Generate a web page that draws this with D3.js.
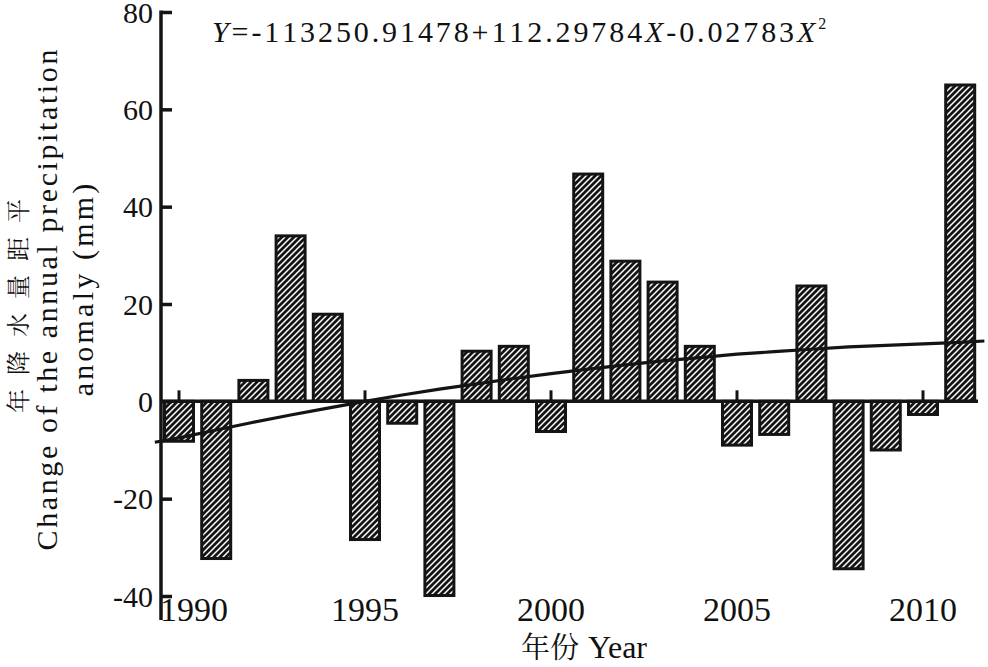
<!DOCTYPE html>
<html>
<head>
<meta charset="utf-8">
<script src="https://cdn.jsdelivr.net/npm/d3@7"></script>
<style>
  html, body { margin: 0; padding: 0; background: #fff; }
  svg { display: block; }
</style>
</head>
<body>
<svg id="chart" width="988" height="667"></svg>
<script>
// ---- data ----
const years = [1990,1991,1992,1993,1994,1995,1996,1997,1998,1999,2000,2001,2002,2003,2004,2005,2006,2007,2008,2009,2010,2011];
const anomaly = [-8.2,-32.3,4.3,34.0,17.9,-28.4,-4.5,-39.9,10.3,11.3,-6.2,46.7,28.8,24.5,11.3,-9.0,-6.8,23.7,-34.4,-10.0,-2.7,65.0];
// trend curve (year, value)
const trendYears = [1989.35,1990,1991,1992,1993,1994,1995,1996,1997,1998,1999,2000,2001,2002,2003,2004,2005,2006,2007,2008,2009,2010,2011,2011.65];
const trendValues = [-8.4,-7.5,-5.9,-4.3,-2.8,-1.4,0.0,1.3,2.5,3.6,4.7,5.7,6.6,7.5,8.3,9.0,9.7,10.2,10.7,11.2,11.5,11.8,12.1,12.4];
const yTicks = [-40,-20,0,20,40,60,80];
const xTicks = [1990,1995,2000,2005,2010];
const equationParts = [
  {t:"Y", italic:true}, {t:"=-113250.91478+112.29784"}, {t:"X", italic:true},
  {t:"-0.02783"}, {t:"X", italic:true}, {t:"2", sup:true}
];

const SERIF = "Liberation Serif";
const CJK = "Noto Serif CJK SC";

// ---- scales ----
const svg = d3.select("#chart");
const x = d3.scaleLinear().domain([1990, 2010]).range([179, 923]);
const y = d3.scaleLinear().domain([-40, 80]).range([596, 12]);
const axisX = 161;
const barW = 29;
const ink = "#141414";

// draw text one glyph per <text>, with extra spacing between glyphs
const measurer = svg.append("text").attr("x",-1000).attr("y",-1000);
function glyphWidth(c, family, size, italic) {
  if (c === " ") return size * 0.25;
  measurer.style("font-family", family).attr("font-size", size)
    .attr("font-style", italic ? "italic" : "normal").text(c);
  return measurer.node().getComputedTextLength();
}
function spacedText(parent, glyphs, spacing, anchor) {
  const widths = glyphs.map(g => glyphWidth(g.c, g.family, g.size, g.italic));
  const total = d3.sum(widths) + spacing * (glyphs.length - 1);
  let pos = anchor === "middle" ? -total/2 : 0;
  glyphs.forEach((g, i) => {
    if (g.c !== " ") {
      parent.append("text").attr("x", pos).attr("y", g.dy || 0)
        .style("font-family", g.family).attr("font-size", g.size)
        .attr("font-style", g.italic ? "italic" : "normal").attr("fill", "#111").text(g.c);
    }
    pos += widths[i] + spacing;
  });
}
function glyphsOf(str, family, size, extra) {
  return Array.from(str).map(c => Object.assign({c, family, size}, extra || {}));
}

// hatch pattern
const defs = svg.append("defs");
const pat = defs.append("pattern").attr("id","hatch").attr("patternUnits","userSpaceOnUse")
  .attr("width",6).attr("height",6);
pat.append("rect").attr("width",6).attr("height",6).attr("fill",ink);
pat.append("path").attr("d","M-1.5,1.5 L1.5,-1.5 M0,6 L6,0 M4.5,7.5 L7.5,4.5")
  .attr("stroke","#fff").attr("stroke-width",1.5);

// bars
svg.append("g").selectAll("rect").data(years).join("rect")
  .attr("x", (d) => x(d) - barW/2)
  .attr("width", barW)
  .attr("y", (d,i) => Math.min(y(anomaly[i]), y(0)))
  .attr("height", (d,i) => Math.abs(y(anomaly[i]) - y(0)))
  .attr("fill","url(#hatch)")
  .attr("stroke",ink).attr("stroke-width",3);

// zero baseline with upward ticks
svg.append("line").attr("x1",axisX).attr("x2",978).attr("y1",y(0)).attr("y2",y(0))
  .attr("stroke",ink).attr("stroke-width",3.5);
svg.append("g").selectAll("line").data(xTicks).join("line")
  .attr("x1",d=>x(d)).attr("x2",d=>x(d)).attr("y1",y(0)).attr("y2",y(0)-11)
  .attr("stroke",ink).attr("stroke-width",3);

// trend line
const line = d3.line().x(d=>x(d[0])).y(d=>y(d[1]));
svg.append("path").datum(trendYears.map((d,i)=>[d,trendValues[i]]))
  .attr("d", line).attr("fill","none").attr("stroke",ink).attr("stroke-width",3.2);

// y axis
const yAxis = d3.axisRight(y).tickValues(yTicks).tickSize(11).tickFormat(d=>d<0?"-"+Math.abs(d):String(d));
const gy = svg.append("g").attr("transform",`translate(${axisX},0)`).call(yAxis)
  .attr("font-family", SERIF).attr("font-size",30);
gy.select(".domain").remove();
gy.selectAll(".tick line").attr("stroke",ink).attr("stroke-width",3.5);
gy.selectAll(".tick text").attr("x",-8).attr("text-anchor","end").attr("dy","0.34em")
  .style("font-family", SERIF).attr("font-size",30).attr("fill","#111");
gy.selectAll(".tick").filter(d=>d===80).select("text").attr("dy","0.36em");
svg.append("line").attr("x1",axisX).attr("x2",axisX).attr("y1",y(80)-1.5).attr("y2",620)
  .attr("stroke",ink).attr("stroke-width",3.5);

// x tick labels
svg.append("g").selectAll("text").data(xTicks).join("text")
  .attr("x", d => d===1990 ? x(d)+15 : x(d))
  .attr("y", 621)
  .attr("text-anchor","middle").attr("font-size",34).style("font-family", SERIF).attr("fill","#111")
  .text(d=>d);

// x axis title
const xt = svg.append("text").attr("x",584).attr("y",658).attr("text-anchor","middle")
  .attr("font-size",32).attr("fill","#111");
xt.append("tspan").style("font-family", CJK).attr("font-size",29).text("年份");
xt.append("tspan").style("font-family", SERIF).attr("dx",9).text("Year");

// y axis titles (rotated, spaced glyph by glyph)
spacedText(svg.append("g").attr("transform","translate(27,306) rotate(-90)"),
  glyphsOf("年降水量距平", CJK, 24), 14, "middle");
spacedText(svg.append("g").attr("transform","translate(57,300) rotate(-90)"),
  glyphsOf("Change of the annual precipitation", SERIF, 30), 2.6, "middle");
spacedText(svg.append("g").attr("transform","translate(93,290) rotate(-90)"),
  glyphsOf("anomaly (mm)", SERIF, 30), 3.2, "middle");

// equation
const eqGlyphs = [];
equationParts.forEach(p => {
  glyphsOf(p.t, SERIF, p.sup ? 16 : 30, {italic: !!p.italic, dy: p.sup ? -13 : 0})
    .forEach(g => eqGlyphs.push(g));
});
spacedText(svg.append("g").attr("transform","translate(212,42)"), eqGlyphs, 2.9, "start");
measurer.remove();
</script>
</body>
</html>
